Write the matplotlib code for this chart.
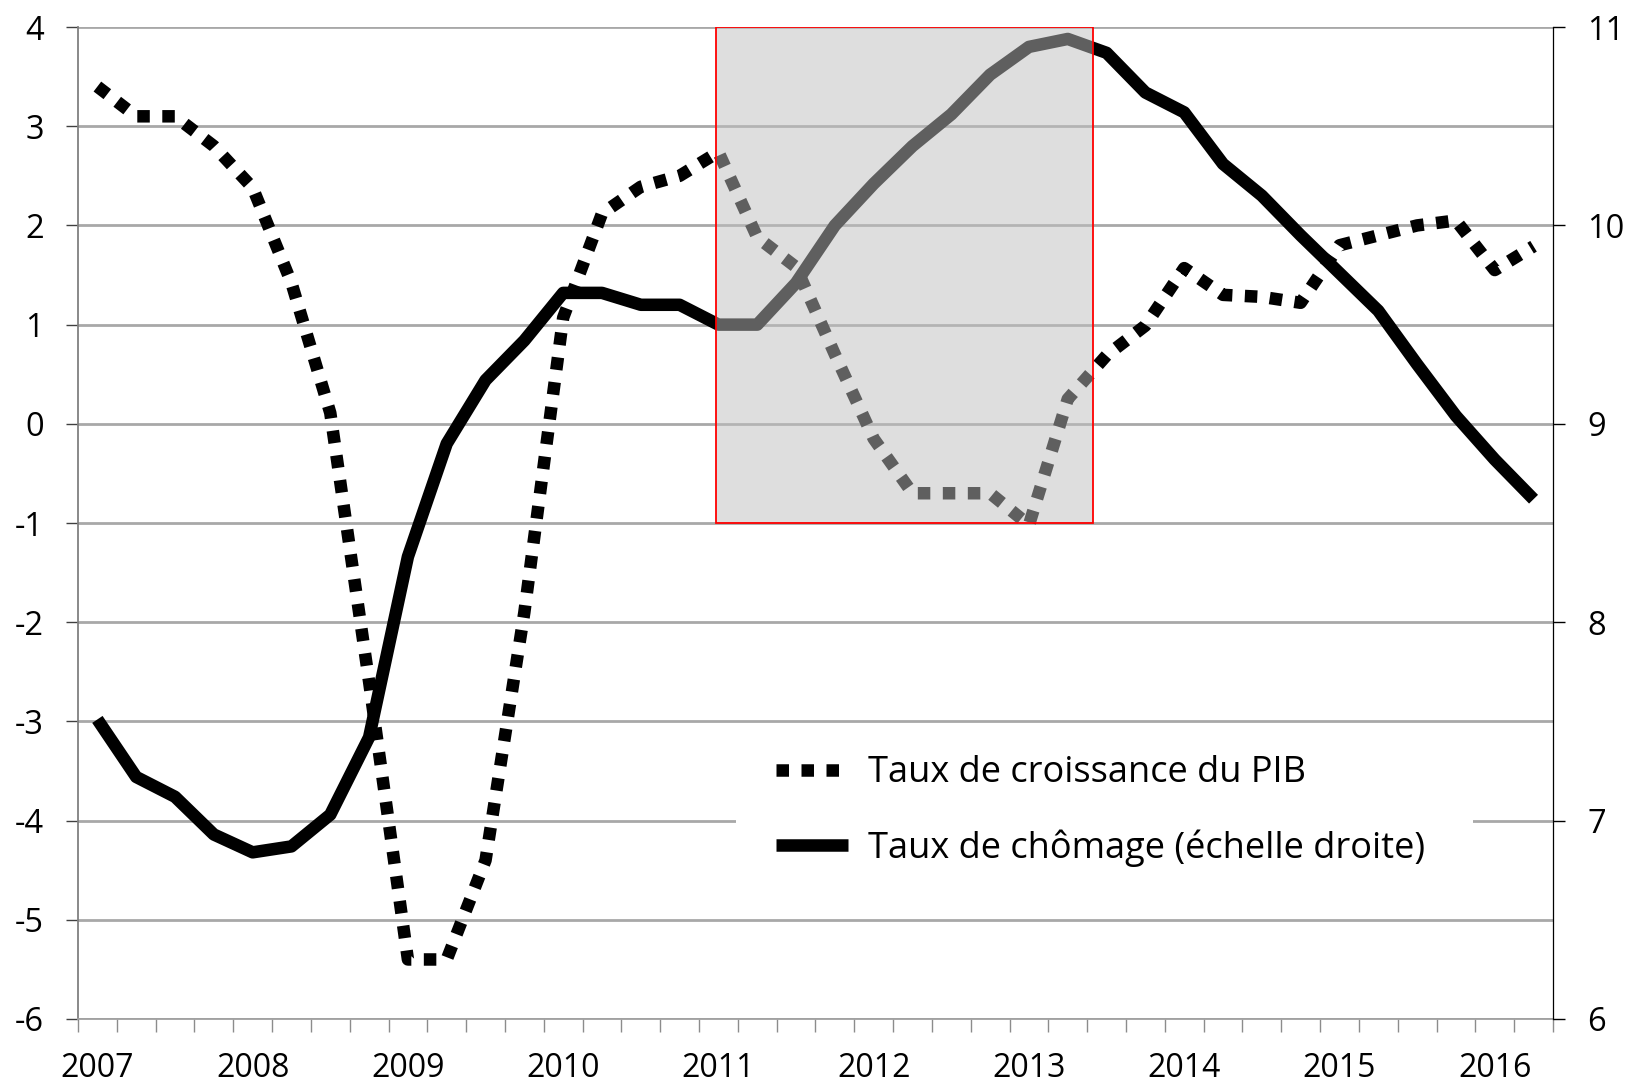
import matplotlib.pyplot as plt
import numpy as np
from matplotlib.patches import Rectangle

plt.rcParams['font.family'] = ['Open Sans', 'DejaVu Sans']
plt.rcParams['axes.unicode_minus'] = False

# Données trimestrielles 2007T1 - 2016T2
annees = ['2007', '2008', '2009', '2010', '2011', '2012', '2013', '2014', '2015', '2016']
pib = [3.4, 3.1, 3.1, 2.8, 2.38, 1.42, 0.11, -2.6,
       -5.4, -5.4, -4.4, -1.9, 1.07, 2.12, 2.39, 2.5,
       2.74, 1.88, 1.58, 0.7, -0.15, -0.7, -0.7, -0.7,
       -1.02, 0.25, 0.69, 0.99, 1.57, 1.3, 1.28, 1.22,
       1.8, 1.9, 2.0, 2.05, 1.55, 1.79]
chomage = [7.51, 7.22, 7.12, 6.93, 6.84, 6.87, 7.03, 7.42,
           8.33, 8.9, 9.22, 9.42, 9.66, 9.66, 9.6, 9.6,
           9.5, 9.5, 9.71, 10.0, 10.21, 10.4, 10.56, 10.76,
           10.9, 10.94, 10.87, 10.67, 10.57, 10.31, 10.15, 9.95,
           9.76, 9.57, 9.3, 9.04, 8.82, 8.62]

# zone grisée (en position de trimestre, échelle de gauche)
zone_x0, zone_x1 = 15.94, 25.65
zone_y0, zone_y1 = -1, 4

fig = plt.figure(figsize=(16.28, 10.86), dpi=100)
ax = fig.add_axes([0.0479, 0.0617, 0.906, 0.9134])
ax2 = ax.twinx()

x = np.arange(len(pib))
ax.plot(x, pib, color='black', lw=9, linestyle=(0, (1, 1)),
        dash_capstyle='butt', label='Taux de croissance du PIB', zorder=3)
ax2.plot(x, chomage, color='black', lw=9, solid_joinstyle='round',
         solid_capstyle='butt', label='Taux de chômage (échelle droite)', zorder=3)

ax.set_xlim(-0.5, len(pib) - 0.5)
ax.set_ylim(-6, 4)
ax2.set_ylim(6, 11)
ax.set_yticks(range(-6, 5))
ax2.set_yticks(range(6, 12))
ax.grid(axis='y', color='#a8a8a8', lw=2)
ax.set_axisbelow(True)

ax.set_xticks(np.arange(0, len(pib), 4))
ax.set_xticklabels(annees)
ax.set_xticks(np.arange(-0.5, len(pib), 1), minor=True)
ax.tick_params(axis='x', which='major', length=0, pad=24, labelsize=23)
ax.tick_params(axis='x', which='minor', length=9.4, width=1, color='#8c8c8c')
ax.tick_params(axis='y', length=8.6, width=1, color='#404040', pad=16, labelsize=23.5)
ax2.tick_params(axis='y', length=8.6, width=1, color='black', pad=16, labelsize=23.5)

for s in ['top', 'right']:
    ax.spines[s].set_visible(False)
for s in ['top', 'left', 'bottom']:
    ax2.spines[s].set_visible(False)
ax.spines['left'].set_color('#808080')
ax.spines['left'].set_linewidth(1.3)
ax.spines['bottom'].set_color('#a0a0a0')
ax.spines['bottom'].set_linewidth(1.3)
ax2.spines['right'].set_color('black')
ax2.spines['right'].set_linewidth(0.9)

# rectangle gris semi-transparent au-dessus des courbes
ax2.add_patch(Rectangle((zone_x0, zone_y0), zone_x1 - zone_x0, zone_y1 - zone_y0,
                        transform=ax.transData, facecolor='#bfbfbf', alpha=0.5,
                        edgecolor='none', zorder=5))
ax2.add_patch(Rectangle((zone_x0, zone_y0), zone_x1 - zone_x0, zone_y1 - zone_y0,
                        transform=ax.transData, fill=False, edgecolor='red',
                        lw=1.3, zorder=6))

# fond blanc de la légende
ax2.add_patch(Rectangle((0.446, 0.12), 0.5, 0.16, transform=ax.transAxes,
                        facecolor='white', edgecolor='none', zorder=4))

h1, l1 = ax.get_legend_handles_labels()
h2, l2 = ax2.get_legend_handles_labels()
leg = ax2.legend(h1 + h2, l1 + l2, loc='center left', bbox_to_anchor=(0.4732, 0.2095),
                 frameon=False, fontsize=26, handlelength=2.0, handletextpad=0.56,
                 labelspacing=1.05, borderpad=0, borderaxespad=0)
leg.set_zorder(7)

fig.savefig('out.png', dpi=100)
